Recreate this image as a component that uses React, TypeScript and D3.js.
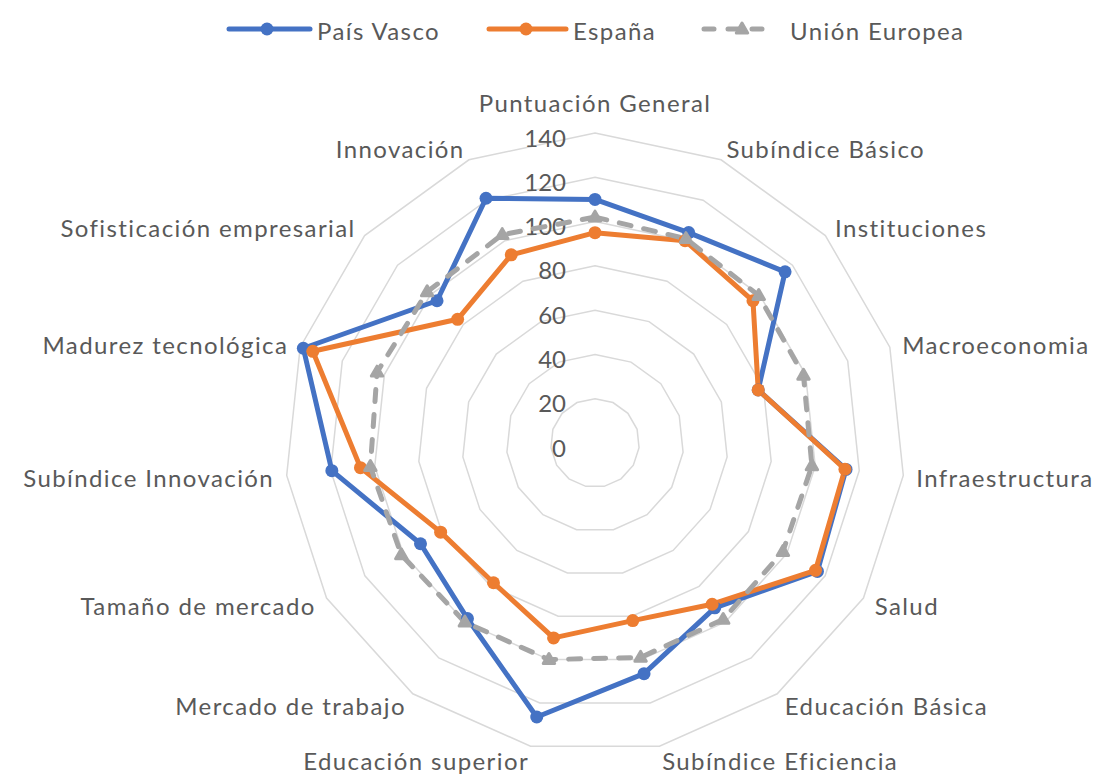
import React from 'react';
import * as d3 from 'd3';

const categories = [
  "Puntuación General",
  "Subíndice Básico",
  "Instituciones",
  "Macroeconomia",
  "Infraestructura",
  "Salud",
  "Educación Básica",
  "Subíndice Eficiencia",
  "Educación superior",
  "Mercado de trabajo",
  "Tamaño de mercado",
  "Subíndice Innovación",
  "Madurez tecnológica",
  "Sofisticación empresarial",
  "Innovación",
];
const paisVasco = [110, 104, 115.5, 77.5, 114, 116, 92, 106.5, 126.5, 98, 91, 119.5, 138.5, 96, 121];
const espana = [95, 100, 96, 77.5, 113.5, 115, 90, 82, 90, 78, 80.5, 106.5, 134, 83.5, 93];
const unionEuropea = [102, 101, 99.5, 99, 98.5, 98, 98.5, 99, 100, 100, 101, 102, 103.5, 102, 103];
const ticks = [0, 20, 40, 60, 80, 100, 120, 140];
const seriesNames = ["País Vasco", "España", "Unión Europea"];

const W = 1097;
const H = 776;
const CX = 595;
const CY = 443;
const FONT = "Lato, 'Noto Sans', sans-serif";
const TEXT = "#595959";
const COLORS = ["#4472C4", "#ED7D31", "#A5A5A5"];
const LS = 1.4;

export default function App() {
  const n = categories.length;
  const step = (2 * Math.PI) / n;
  const r = d3.scaleLinear().domain([0, 140]).range([0, 310]);
  const ang = (i: number) => i * step;
  const px = (i: number, v: number) => CX + r(v) * Math.sin(ang(i));
  const py = (i: number, v: number) => CY - r(v) * Math.cos(ang(i));

  const radial = d3
    .lineRadial<number>()
    .angle((_, i) => ang(i))
    .radius((d) => r(d))
    .curve(d3.curveLinearClosed);

  const series = [paisVasco, espana, unionEuropea];

  const tri = (x: number, y: number, s: number) =>
    `M${x},${y - s} L${x + s * 0.95},${y + s * 0.65} L${x - s * 0.95},${y + s * 0.65} Z`;

  const legendItems = [
    { x1: 227, x2: 312, mx: 267, tx: 317 },
    { x1: 487, x2: 568, mx: 526, tx: 573 },
    { x1: 702, x2: 775, mx: 742, tx: 790 },
  ];

  return (
    <svg
      width={W}
      height={H}
      style={{ position: 'absolute', left: 0, top: 0, background: '#fff' }}
      fontFamily={FONT}
    >
      {/* grid rings */}
      <g transform={`translate(${CX},${CY})`}>
        {ticks
          .filter((t) => t > 0)
          .map((t) => (
            <path
              key={t}
              d={radial(categories.map(() => t)) || ''}
              fill="none"
              stroke="#D9D9D9"
              strokeWidth={1.5}
            />
          ))}
      </g>

      {/* tick labels */}
      {ticks.map((t) => (
        <text
          key={t}
          x={566}
          y={CY - r(t) + 4}
          textAnchor="end"
          dominantBaseline="central"
          fontSize={24}
          fill={TEXT}
        >
          {t}
        </text>
      ))}

      {/* category labels */}
      {categories.map((c, i) => {
        const a = ang(i);
        const s = Math.sin(a);
        const co = Math.cos(a);
        const vx = px(i, 140);
        const vy = py(i, 140);
        let anchor = 'middle';
        let x = vx;
        let y = vy - 13.5 * co + 1;
        if (Math.abs(s) < 0.05) {
          y = vy - 31;
        } else if (s > 0) {
          anchor = 'start';
          x = vx + s * 13;
        } else {
          anchor = 'end';
          x = vx + s * 14 + LS;
        }
        return (
          <text
            key={c}
            x={x}
            y={y}
            textAnchor={anchor}
            dominantBaseline="central"
            fontSize={24}
            letterSpacing={LS}
            fill={TEXT}
          >
            {c}
          </text>
        );
      })}

      {/* series */}
      <g transform={`translate(${CX},${CY})`}>
        {series.map((vals, si) => (
          <path
            key={si}
            d={radial(vals) || ''}
            fill="none"
            stroke={COLORS[si]}
            strokeWidth={5}
            strokeLinejoin="round"
            strokeLinecap="round"
            strokeDasharray={si === 2 ? '12 13' : undefined}
          />
        ))}
      </g>
      {series.map((vals, si) => (
        <g key={'m' + si}>
          {vals.map((v, i) =>
            si === 2 ? (
              <path
                key={i}
                d={tri(px(i, v), py(i, v), 6)}
                fill={COLORS[si]}
                stroke={COLORS[si]}
                strokeWidth={3}
                strokeLinejoin="round"
              />
            ) : (
              <circle key={i} cx={px(i, v)} cy={py(i, v)} r={6.5} fill={COLORS[si]} />
            )
          )}
        </g>
      ))}

      {/* legend */}
      {seriesNames.map((name, si) => {
        const L = legendItems[si];
        return (
          <g key={name}>
            <line
              x1={L.x1 + 2}
              x2={L.x2 - 2}
              y1={29}
              y2={29}
              stroke={COLORS[si]}
              strokeWidth={5}
              strokeLinecap="round"
              strokeDasharray={si === 2 ? '10 14' : undefined}
            />
            {si === 2 ? (
              <path
                d={tri(L.mx, 29, 6)}
                fill={COLORS[si]}
                stroke={COLORS[si]}
                strokeWidth={3}
                strokeLinejoin="round"
              />
            ) : (
              <circle cx={L.mx} cy={29} r={6.5} fill={COLORS[si]} />
            )}
            <text
              x={L.tx}
              y={30}
              dominantBaseline="central"
              fontSize={24}
              letterSpacing={LS}
              fill={TEXT}
            >
              {name}
            </text>
          </g>
        );
      })}
    </svg>
  );
}
